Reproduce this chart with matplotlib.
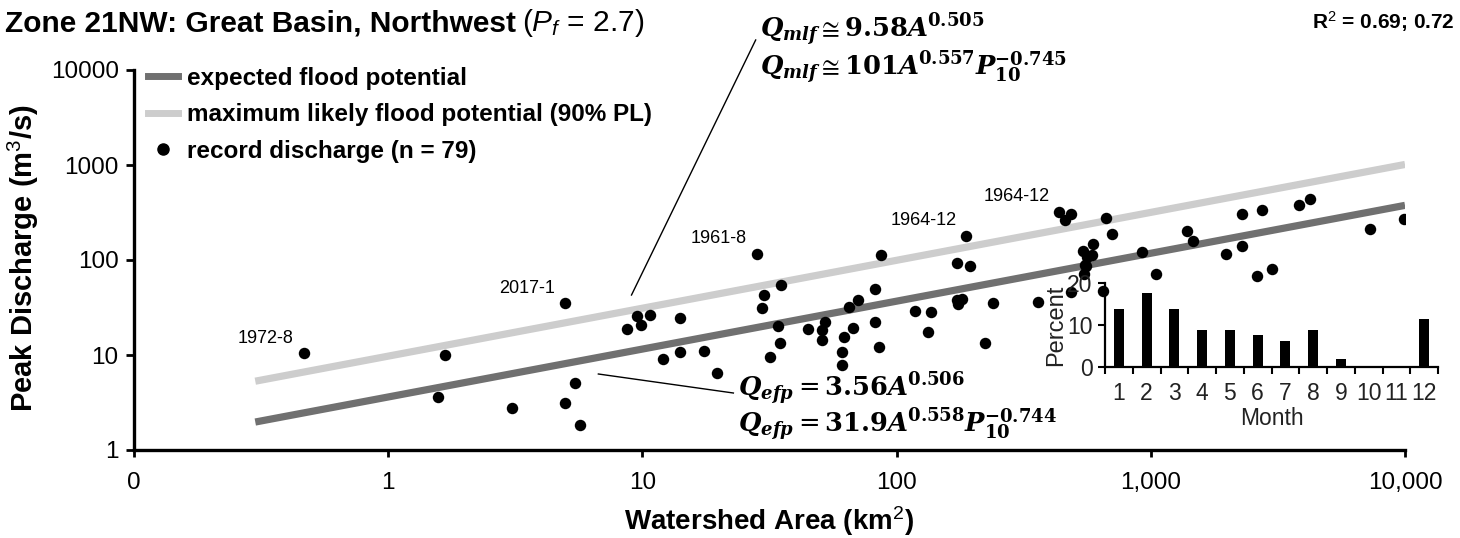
import matplotlib
matplotlib.use('Agg')
import matplotlib.pyplot as plt
from matplotlib.lines import Line2D
from matplotlib.ticker import FixedLocator, NullLocator

plt.rcParams['font.family'] = ['Liberation Sans', 'DejaVu Sans']
plt.rcParams['mathtext.fontset'] = 'custom'
plt.rcParams['mathtext.rm'] = 'Liberation Sans'
plt.rcParams['mathtext.it'] = 'Liberation Sans:italic'
plt.rcParams['mathtext.bf'] = 'Liberation Sans:bold'

# record discharges
area = [0.465, 1.68, 1.57, 3.08, 4.96, 4.96, 5.42, 5.7, 8.73, 9.56,
        9.87, 10.7, 14.1, 14.1, 12.0, 17.5, 19.7,
        28.2, 30.1, 29.6, 35.0, 34.3, 34.8, 31.8,
        44.7, 51.0, 52.3, 50.7, 62.2, 61.1, 61.1,
        65.2, 67.3, 70.8, 82.2, 82.2, 85.4, 86.5,
        118.6, 137, 133.5, 173, 188, 195, 173, 181, 175,
        223, 239, 360, 437, 459, 484, 484,
        542, 549, 560, 554, 545, 587, 592,
        649, 669, 701, 926, 1048, 1385, 1462, 1974,
        2277, 2277, 2626, 2740, 2994, 3826, 4230, 7260, 9950]
discharge = [10.4, 9.9, 3.64, 2.75, 3.15, 35, 5.04, 1.83, 18.8, 25.8,
             20.5, 26.4, 24.5, 10.7, 9.0, 11.1, 6.5,
             116, 42.8, 31, 54.6, 20.4, 13.3, 9.6,
             18.8, 18.3, 22.1, 14.4, 15.4, 10.8, 7.8,
             32.3, 19.4, 37.9, 49.5, 22.4, 12.2, 114,
             29.3, 28.4, 17.5, 92, 180, 87, 37.9, 38.6, 34.4,
             13.3, 35, 36.4, 323, 264, 303, 45.7,
             125, 88.6, 108, 87, 70.7, 113, 146,
             47.2, 279, 188, 122, 70.7, 204, 160, 116,
             303, 140, 68.4, 336, 81, 382, 435, 210, 272]

# labelled events (area, discharge, label)
event_area = [0.465, 4.96, 28.2, 188, 437]
event_q = [10.4, 35, 116, 180, 323]
event_lbl = ['1972-8', '2017-1', '1961-8', '1964-12', '1964-12']

# envelope lines (end points)
line_area = [0.3, 10000]
efp_q = [1.97, 376]
mlf_q = [5.3, 1013]

# inset: month of record
months = list(range(1, 13))
pct = [13.9, 17.7, 13.9, 8.9, 8.9, 7.6, 6.3, 8.9, 2.0, 0, 0, 11.4]

xticks = [0.1, 1, 10, 100, 1000, 10000]
xticklabels = ['0', '1', '10', '100', '1,000', '10,000']
yticks = [1, 10, 100, 1000, 10000]

W, H = 1460, 538
fig = plt.figure(figsize=(W / 100, H / 100), dpi=100)


def fx(x):
    return x / W


def fy(y):
    return 1 - y / H


ax = fig.add_axes([fx(134), fy(450), fx(1405) - fx(134), fy(70) - fy(450)])
ax.set_xscale('log')
ax.set_yscale('log')
ax.set_xlim(0.1, 10000)
ax.set_ylim(1, 10000)

ax.plot(line_area, efp_q, color='#707070', lw=5.2, solid_capstyle='butt', zorder=2)
ax.plot(line_area, mlf_q, color='#cdcdcd', lw=5.2, solid_capstyle='butt', zorder=2)
ax.scatter(area, discharge, s=68, color='black', zorder=3, linewidths=0)

for a, q, t in zip(event_area, event_q, event_lbl):
    ax.annotate(t, (a, q), xytext=(-7, 11), textcoords='offset points',
                ha='right', va='center', fontsize=13)

ax.xaxis.set_major_locator(FixedLocator(xticks))
ax.set_xticklabels(xticklabels)
ax.xaxis.set_minor_locator(NullLocator())
ax.yaxis.set_major_locator(FixedLocator(yticks))
ax.set_yticklabels([str(v) for v in yticks])
ax.yaxis.set_minor_locator(NullLocator())
ax.tick_params(axis='x', labelsize=17.5, length=5, width=2, pad=11, direction='out')
ax.tick_params(axis='y', labelsize=17.5, length=6, width=2, pad=5, direction='out')
for s in ['top', 'right']:
    ax.spines[s].set_visible(False)
for s in ['left', 'bottom']:
    ax.spines[s].set_linewidth(2.4)

# callout lines for equations
ax.plot([9.06, 27.9], [42.8, 20700], color='black', lw=1, clip_on=False)
ax.plot([6.71, 22.8], [6.31, 3.98], color='black', lw=1, clip_on=False)

eq1 = r'$\mathbfit{Q}_{\mathbfit{mlf}} \cong \mathbf{9.58}\mathbfit{A}^{\mathbf{0.505}}$'
eq2 = r'$\mathbfit{Q}_{\mathbfit{mlf}} \cong \mathbf{101}\mathbfit{A}^{\mathbf{0.557}}\mathbfit{P}_{\mathbf{10}}^{\mathbf{-0.745}}$'
eq3 = r'$\mathbfit{Q}_{\mathbfit{efp}} = \mathbf{3.56}\mathbfit{A}^{\mathbf{0.506}}$'
eq4 = r'$\mathbfit{Q}_{\mathbfit{efp}} = \mathbf{31.9}\mathbfit{A}^{\mathbf{0.558}}\mathbfit{P}_{\mathbf{10}}^{\mathbf{-0.744}}$'
fig.text(fx(760), fy(30), eq1, fontsize=18.5, va='center', math_fontfamily='dejavuserif')
fig.text(fx(760), fy(68), eq2, fontsize=18.5, va='center', math_fontfamily='dejavuserif')
fig.text(fx(738), fy(389), eq3, fontsize=18.5, va='center', math_fontfamily='dejavuserif')
fig.text(fx(738), fy(425), eq4, fontsize=18.5, va='center', math_fontfamily='dejavuserif')

handles = [Line2D([], [], color='#707070', lw=5),
           Line2D([], [], color='#cdcdcd', lw=5),
           Line2D([], [], color='black', marker='o', ls='none', markersize=8)]
labels = ['expected flood potential', 'maximum likely flood potential (90% PL)',
          'record discharge (n = 79)']
ax.legend(handles, labels, loc='upper left', bbox_to_anchor=(fx(148), fy(67)),
          bbox_transform=fig.transFigure, frameon=False, borderpad=0,
          borderaxespad=0, handlelength=1.25, handletextpad=0.35,
          labelspacing=0.55, prop={'weight': 'bold', 'size': 17.5})

fig.text(fx(23), fy(258), 'Peak Discharge (m$^3$/s)', fontsize=21, fontweight='bold',
         rotation=90, ha='center', va='center')
fig.text(fx(769), fy(521), 'Watershed Area (km$^2$)', fontsize=20, fontweight='bold',
         ha='center', va='center')

t1 = fig.text(fx(5), fy(23), 'Zone 21NW: Great Basin, Northwest', fontsize=21.5,
              fontweight='bold', va='center')
fig.canvas.draw()
bb = t1.get_window_extent()
fig.text(bb.x1 / W + fx(6), fy(23), '($P_f$ = 2.7)', fontsize=21.5, va='center')
fig.text(fx(1455), fy(22), 'R$^2$ = 0.69; 0.72', fontsize=15, fontweight='bold',
         ha='right', va='center')

# inset histogram
ax2 = fig.add_axes([fx(1105), fy(367), fx(1438) - fx(1105), fy(283) - fy(367)])
ax2.set_facecolor('none')
ax2.bar(months, pct, width=0.36, color='black')
ax2.set_xlim(0.5, 12.5)
ax2.set_ylim(0, 20)
ax2.set_yticks([0, 10, 20])
ax2.set_xticks(months)
ax2.set_xticks([m + 0.5 for m in range(0, 13)], minor=True)
ax2.tick_params(axis='x', which='major', length=0, pad=11, labelsize=16.5, labelcolor='#222222')
ax2.tick_params(axis='x', which='minor', length=5, width=1.5)
ax2.tick_params(axis='y', length=5, width=1.5, pad=4, labelsize=16.5, labelcolor='#222222')
for s in ['top', 'right']:
    ax2.spines[s].set_visible(False)
for s in ['left', 'bottom']:
    ax2.spines[s].set_linewidth(1.6)
ax2.set_xlabel('Month', fontsize=16.5, color='#222222', labelpad=1)
ax2.set_ylabel('Percent', fontsize=17, color='#222222', labelpad=0)

fig.savefig('out.png', dpi=100)
